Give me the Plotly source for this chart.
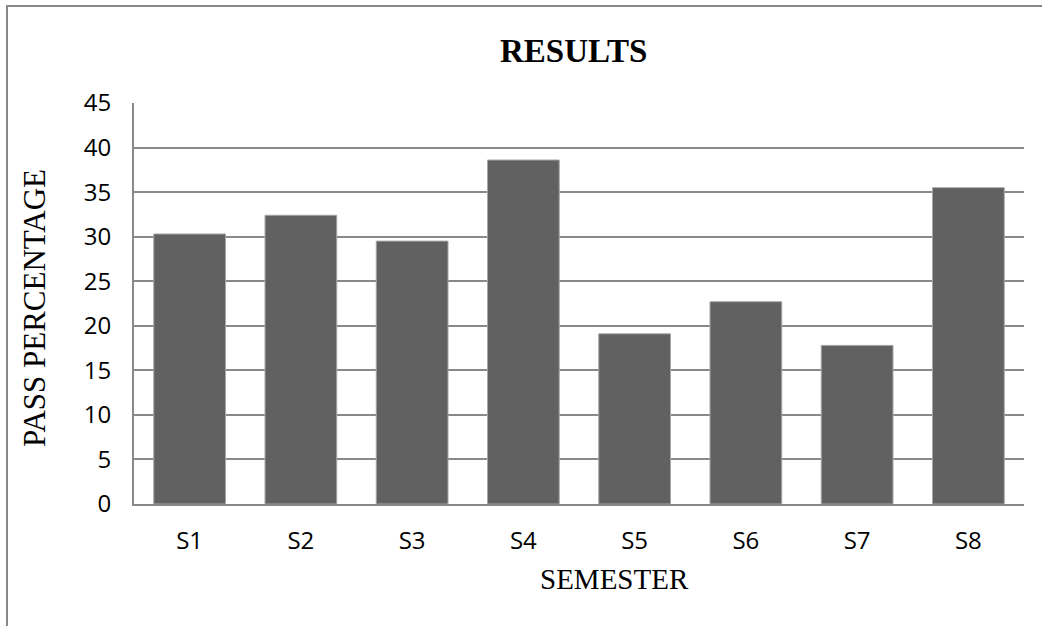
import plotly.graph_objects as go

semesters = ["S1", "S2", "S3", "S4", "S5", "S6", "S7", "S8"]
pass_pct = [30.3, 32.4, 29.5, 38.6, 19.1, 22.7, 17.8, 35.5]
y_ticks = [0, 5, 10, 15, 20, 25, 30, 35, 40, 45]

W, H = 1042, 626
L, R, T, B = 134, 1024, 103, 504
pw, ph = R - L, B - T

def px(xp):
    return (xp - L) / pw

def py(yp):
    return (B - yp) / ph

grid = "#898989"

fig = go.Figure(go.Bar(
    x=semesters, y=pass_pct,
    marker=dict(color="#616161", line=dict(color="#a6a6a6", width=1)),
))

fig.update_layout(
    width=W, height=H,
    margin=dict(l=L, r=W - R, t=T, b=H - B, pad=0),
    paper_bgcolor="white", plot_bgcolor="white",
    bargap=0.355, showlegend=False,
    font=dict(family="Liberation Sans", color="black"),
)
fig.update_yaxes(
    range=[0, 45], tickvals=y_ticks, ticktext=[str(v) for v in y_ticks],
    showgrid=True, gridcolor=grid, gridwidth=2,
    showline=True, linecolor=grid, linewidth=2,
    zeroline=False, tickfont=dict(size=24, family="Open Sans", color="black"),
    ticks="", ticklabelstandoff=16,
)
fig.update_xaxes(
    showline=True, linecolor=grid, linewidth=2, showgrid=False,
    tickfont=dict(size=24, family="Open Sans", color="black"),
    ticks="", ticklabelstandoff=14,
)

ann = [
    dict(text="<b>RESULTS</b>", x=px(573), y=py(51), xref="paper", yref="paper",
         showarrow=False, xanchor="center", yanchor="middle",
         font=dict(family="Liberation Serif", size=33, color="black")),
    dict(text="SEMESTER", x=px(614), y=py(579), xref="paper", yref="paper",
         showarrow=False, xanchor="center", yanchor="middle",
         font=dict(family="Liberation Serif", size=29, color="black")),
    dict(text="PASS PERCENTAGE", x=px(34), y=py(308), xref="paper", yref="paper",
         showarrow=False, xanchor="center", yanchor="middle", textangle=-90,
         font=dict(family="Liberation Serif", size=31, color="black")),
]
fig.update_layout(annotations=ann)

fig.add_shape(type="rect", xref="paper", yref="paper",
              x0=px(7), x1=px(1060), y0=py(640), y1=py(6),
              line=dict(color="#878787", width=2), fillcolor="rgba(0,0,0,0)")

fig.write_html("out.html")
